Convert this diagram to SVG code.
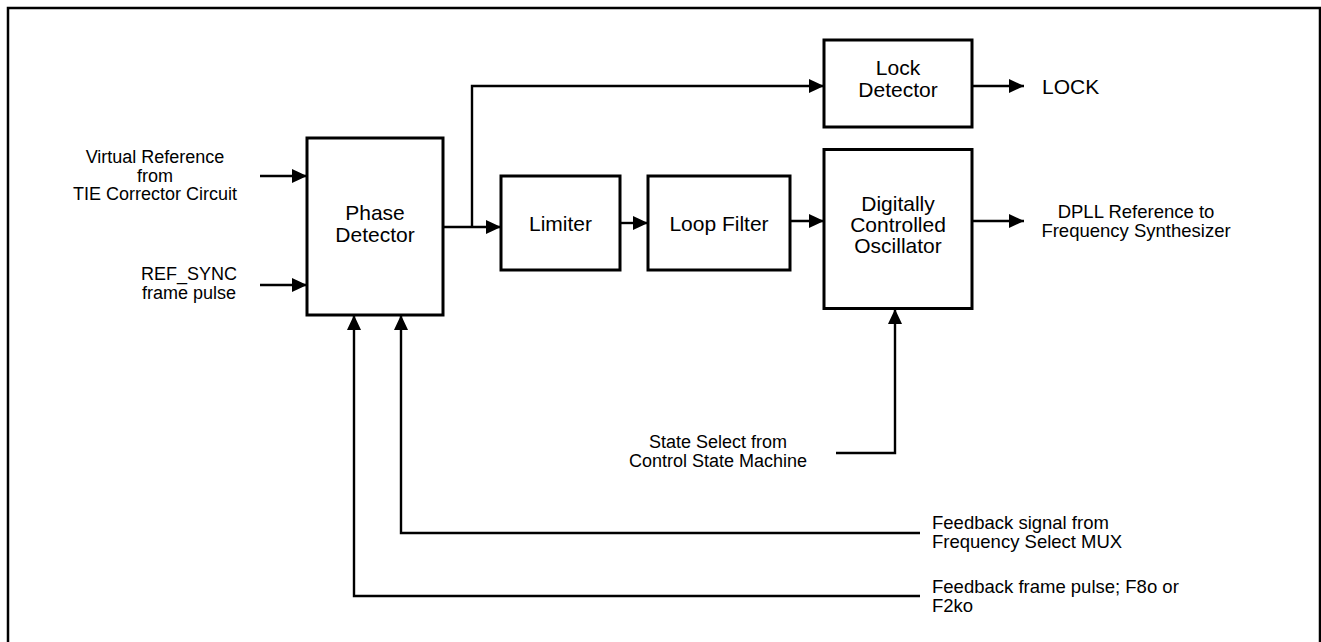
<svg xmlns="http://www.w3.org/2000/svg" width="1321" height="642" viewBox="0 0 1321 642">
<style>
.box{fill:#fff;stroke:#000;stroke-width:3}
.ln{fill:none;stroke:#000;stroke-width:2.4}
.t{font-family:"Liberation Sans",Arial,sans-serif;fill:#000}
.bt{font-size:21px;text-anchor:middle}
.lt{font-size:18.5px}
.st{font-size:18px}
.m{text-anchor:middle}
</style>
<defs>
<marker id="ah" markerUnits="userSpaceOnUse" markerWidth="15" markerHeight="14" refX="15" refY="7" orient="auto">
<path d="M0,0 L15,7 L0,14 z" fill="#000"/>
</marker>
</defs>
<rect x="0" y="0" width="1321" height="642" fill="#fff"/>
<rect id="frame" x="8" y="8" width="1312" height="660" fill="none" stroke="#000" stroke-width="2.5"/>

<g id="connectors">
<line class="ln" x1="260" y1="176" x2="307" y2="176" marker-end="url(#ah)"/>
<line class="ln" x1="260" y1="285" x2="307" y2="285" marker-end="url(#ah)"/>
<line class="ln" x1="443" y1="227" x2="501" y2="227" marker-end="url(#ah)"/>
<polyline class="ln" points="472,227 472,86 824,86" marker-end="url(#ah)"/>
<line class="ln" x1="620" y1="223" x2="648" y2="223" marker-end="url(#ah)"/>
<line class="ln" x1="790" y1="221" x2="824" y2="221" marker-end="url(#ah)"/>
<line class="ln" x1="972" y1="86" x2="1024" y2="86" marker-end="url(#ah)"/>
<line class="ln" x1="972" y1="221" x2="1024" y2="221" marker-end="url(#ah)"/>
<polyline class="ln" points="836,453 895,453 895,309" marker-end="url(#ah)"/>
<polyline class="ln" points="920,533 401,533 401,315" marker-end="url(#ah)"/>
<polyline class="ln" points="920,596 354,596 354,315" marker-end="url(#ah)"/>
</g>

<g id="phase-detector">
<rect class="box" x="307" y="138" width="136" height="177"/>
<text class="t bt" x="375" y="220">Phase</text>
<text class="t bt" x="375" y="241.5">Detector</text>
</g>
<g id="limiter">
<rect class="box" x="501" y="176" width="119" height="94"/>
<text class="t bt" x="560.5" y="231">Limiter</text>
</g>
<g id="loop-filter">
<rect class="box" x="648" y="176" width="142" height="94"/>
<text class="t bt" x="719" y="231">Loop Filter</text>
</g>
<g id="lock-detector">
<rect class="box" x="824" y="40" width="148" height="87"/>
<text class="t bt" x="898" y="75">Lock</text>
<text class="t bt" x="898" y="96.5">Detector</text>
</g>
<g id="dco">
<rect class="box" x="824" y="149.5" width="148" height="159"/>
<text class="t bt" x="898" y="211">Digitally</text>
<text class="t bt" x="898" y="232">Controlled</text>
<text class="t bt" x="898" y="253">Oscillator</text>
</g>

<g id="labels">
<text class="t st m" x="155" y="163">Virtual Reference</text>
<text class="t st m" x="155" y="181.5">from</text>
<text class="t st m" x="155" y="200">TIE Corrector Circuit</text>
<text class="t st m" x="189" y="280">REF_SYNC</text>
<text class="t st m" x="189" y="298.5">frame pulse</text>
<text class="t" x="1042" y="94" font-size="21">LOCK</text>
<text class="t lt m" x="1136" y="217.5">DPLL Reference to</text>
<text class="t lt m" x="1136" y="236.5">Frequency Synthesizer</text>
<text class="t st m" x="718" y="448">State Select from</text>
<text class="t st m" x="718" y="466.5">Control State Machine</text>
<text class="t lt" x="932" y="529">Feedback signal from</text>
<text class="t lt" x="932" y="548">Frequency Select MUX</text>
<text class="t lt" x="932" y="593">Feedback frame pulse; F8o or</text>
<text class="t lt" x="932" y="612">F2ko</text>
</g>
</svg>
